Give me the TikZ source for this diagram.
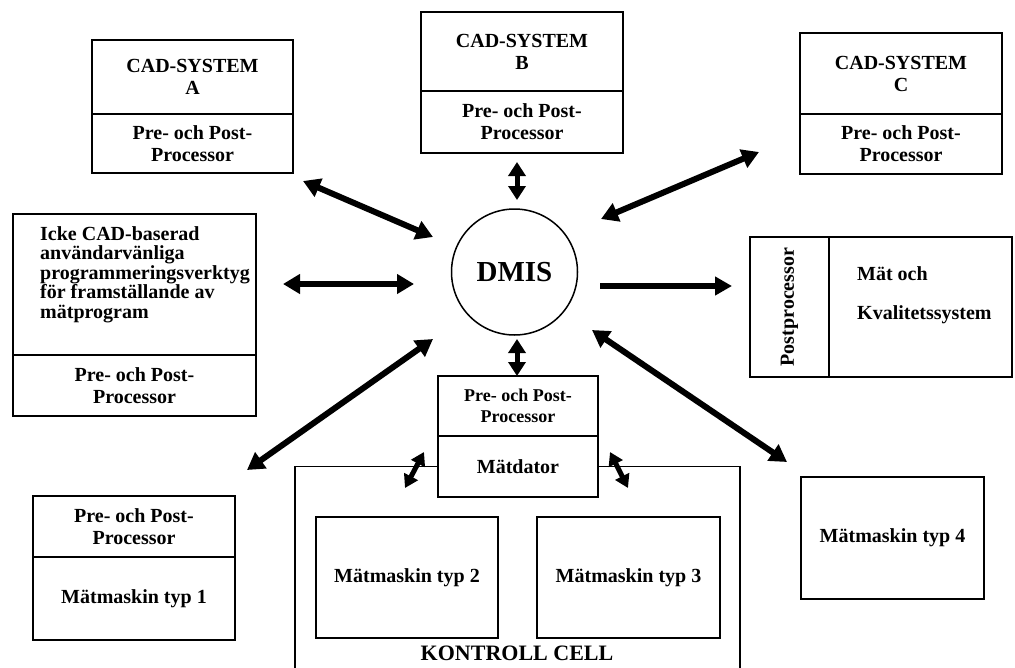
\documentclass[tikz,border=0pt]{standalone}
\usepackage{fontspec}
\setmainfont{Liberation Serif}
\usepackage{tikz}
\usetikzlibrary{positioning}
\usetikzlibrary{arrows.meta}

\tikzset{
    box/.style={draw, line width=1.5pt, inner sep=0pt, outer sep=0pt, align=center,
        font=\bfseries\fontsize{20}{22}\selectfont},
    txt/.style={inner sep=0pt, align=left, font=\bfseries\fontsize{20}{19.5}\selectfont},
    biarrow/.style={line width=6pt, {Triangle[length=17pt,width=19pt]}-{Triangle[length=17pt,width=19pt]}},
    shortarrow/.style={line width=5pt, {Triangle[length=14pt,width=17pt]}-{Triangle[length=14pt,width=17pt]}},
    onearrow/.style={line width=6pt, -{Triangle[length=17pt,width=18pt]}},
    smallarrow/.style={line width=5pt, {Triangle[length=13pt,width=15pt]}-{Triangle[length=13pt,width=15pt]}},
}

\begin{document}
\begin{tikzpicture}[x=1pt,y=-1pt]
    \useasboundingbox (0,0) rectangle (1015,667);

    % Nodes
    \node[circle, draw, line width=1.5pt, minimum size=126pt, inner sep=0pt,
        font=\bfseries\fontsize{29}{30}\selectfont] (dmis) at (514.5,272) {DMIS};

    \node[box, anchor=north west, minimum width=201pt, minimum height=74pt] (aTop) at (92,40) {CAD-SYSTEM\\A};
    \node[box, minimum width=201pt, minimum height=59pt, below=0pt of aTop] (aBot) {Pre- och Post-\\Processor};

    \node[box, anchor=north west, minimum width=202pt, minimum height=79pt] (bTop) at (421,12) {CAD-SYSTEM\\B};
    \node[box, minimum width=202pt, minimum height=62pt, below=0pt of bTop] (bBot) {Pre- och Post-\\Processor};

    \node[box, anchor=north west, minimum width=202pt, minimum height=81pt] (cTop) at (800,33) {CAD-SYSTEM\\C};
    \node[box, minimum width=202pt, minimum height=60pt, below=0pt of cTop] (cBot) {Pre- och Post-\\Processor};

    \node[box, anchor=north west, minimum width=243pt, minimum height=141pt] (ickeTop) at (13,214) {};
    \node[box, minimum width=243pt, minimum height=61pt, below=0pt of ickeTop] (ickeBot) {Pre- och Post-\\Processor};
    \node[txt, anchor=north west] (ickeText) at (40,226)
        {Icke CAD-baserad\\användarvänliga\\programmeringsverktyg\\för framställande av\\mätprogram};

    \node[box, anchor=north west, minimum width=79pt, minimum height=140pt] (postL) at (750,237) {\rotatebox{90}{Postprocessor}};
    \node[box, minimum width=183pt, minimum height=140pt, right=0pt of postL] (postR) {};
    \node[txt, anchor=north west] (postText) at (857,266) {Mät och\\[20pt]Kvalitetssystem};

    \node[box, anchor=north west, minimum width=160pt, minimum height=60pt,
        font=\bfseries\fontsize{18}{21}\selectfont] (mTop) at (438,376) {Pre- och Post-\\Processor};
    \node[box, minimum width=160pt, minimum height=61pt, below=0pt of mTop] (mBot) {Mätdator};

    \node[box, anchor=north west, minimum width=202pt, minimum height=61pt] (m1Top) at (33,496) {Pre- och Post-\\Processor};
    \node[box, minimum width=202pt, minimum height=83pt, below=0pt of m1Top] (m1Bot) {Mätmaskin typ 1};

    \node[box, anchor=north west, minimum width=182pt, minimum height=121pt] (m2) at (316,517) {Mätmaskin typ 2};
    \node[box, anchor=north west, minimum width=183pt, minimum height=121pt] (m3) at (537,517) {Mätmaskin typ 3};
    \node[box, anchor=north west, minimum width=183pt, minimum height=122pt] (m4) at (801,477) {Mätmaskin typ 4};

    \node[inner sep=0pt, font=\bfseries\fontsize{22}{24}\selectfont] (cellLabel) at (517,653) {KONTROLL CELL};

    % Kontroll cell frame
    \coordinate (cellSW) at (295,672);
    \coordinate (cellSE) at (740,672);
    \draw[line width=1.5pt] (mBot.west) -| (cellSW);
    \draw[line width=1.5pt] (mBot.east) -| (cellSE);

    % Arrow ends
    \coordinate (aTip) at (303,181);
    \coordinate (dmisA) at (433,237);
    \coordinate (bTip) at (517,162);
    \coordinate (dmisB) at (517,200);
    \coordinate (cTip) at (759,152);
    \coordinate (dmisC) at (601,219);
    \coordinate (ickeTip) at (283,284);
    \coordinate (dmisI) at (414,284);
    \coordinate (dmisP) at (600,286);
    \coordinate (postTip) at (732,286);
    \coordinate (m1Tip) at (247,470);
    \coordinate (dmisM1) at (433,339);
    \coordinate (dmisM) at (517,339);
    \coordinate (mTip) at (517,376);
    \coordinate (dmisM4) at (592,330);
    \coordinate (m4Tip) at (787,462);
    \coordinate (m2Tip) at (405,488);
    \coordinate (mLeft) at (424,452);
    \coordinate (mRight) at (610,452);
    \coordinate (m3Tip) at (628,488);

    % Edges
    \draw[biarrow] (aTip) -- (dmisA);
    \draw[shortarrow] (bTip) -- (dmisB);
    \draw[biarrow] (cTip) -- (dmisC);
    \draw[biarrow] (ickeTip) -- (dmisI);
    \draw[onearrow] (dmisP) -- (postTip);
    \draw[biarrow] (m1Tip) -- (dmisM1);
    \draw[shortarrow] (dmisM) -- (mTip);
    \draw[biarrow] (dmisM4) -- (m4Tip);
    \draw[smallarrow] (m2Tip) -- (mLeft);
    \draw[smallarrow] (mRight) -- (m3Tip);
\end{tikzpicture}
\end{document}
